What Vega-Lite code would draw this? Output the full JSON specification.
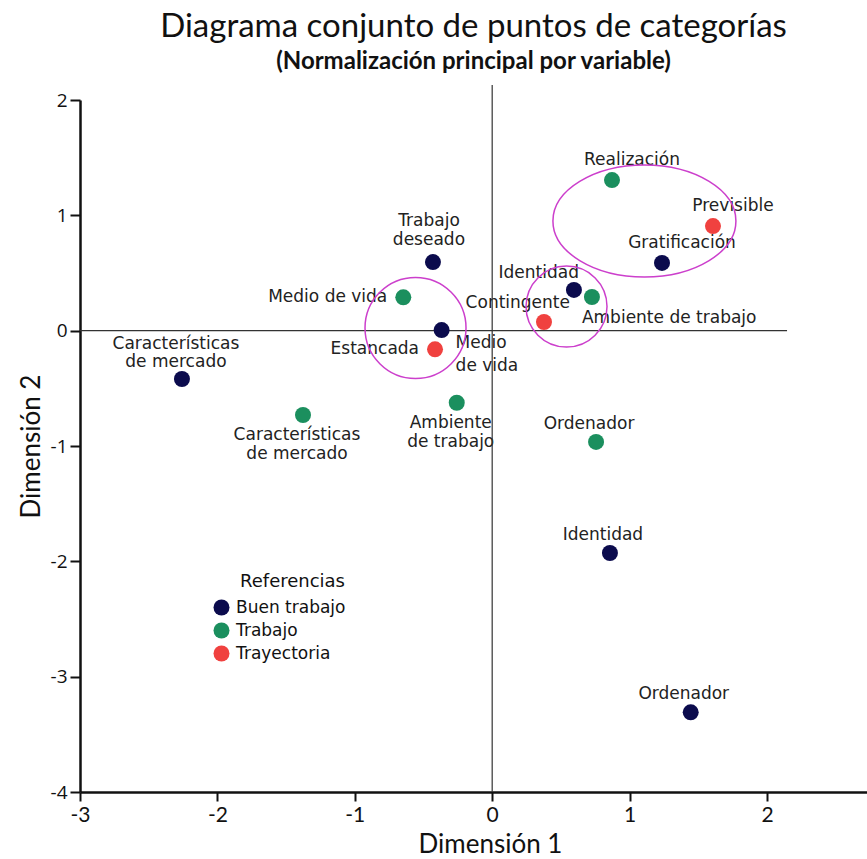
{
  "$schema": "https://vega.github.io/schema/vega-lite/v6.json",
  "width": 787,
  "height": 692,
  "autosize": "none",
  "padding": {"left": 80, "top": 100, "right": 0, "bottom": 67},
  "background": "white",
  "title": {
    "text": "Diagrama conjunto de puntos de categorías",
    "subtitle": "(Normalización principal por variable)",
    "font": "Lato",
    "fontSize": 33,
    "fontWeight": "normal",
    "color": "#111",
    "subtitleFont": "Lato",
    "subtitleFontSize": 24,
    "subtitleFontWeight": "bold",
    "subtitleColor": "#111",
    "subtitlePadding": 6,
    "anchor": "middle",
    "offset": 10
  },
  "config": {
    "view": {"stroke": null},
    "text": {"font": "DejaVu Sans", "fontSize": 17, "color": "#222", "baseline": "middle"}
  },
  "data": {
    "values": [
      {"serie": "Buen trabajo", "etiqueta": "Características\nde mercado", "d1": -2.258, "d2": -0.419},
      {"serie": "Buen trabajo", "etiqueta": "Trabajo\ndeseado", "d1": -0.431, "d2": 0.595},
      {"serie": "Buen trabajo", "etiqueta": "Medio\nde vida", "d1": -0.368, "d2": 0.005},
      {"serie": "Buen trabajo", "etiqueta": "Identidad", "d1": 0.595, "d2": 0.353},
      {"serie": "Buen trabajo", "etiqueta": "Gratificación", "d1": 1.236, "d2": 0.587},
      {"serie": "Buen trabajo", "etiqueta": "Identidad", "d1": 0.857, "d2": -1.928},
      {"serie": "Buen trabajo", "etiqueta": "Ordenador", "d1": 1.445, "d2": -3.309},
      {"serie": "Trabajo", "etiqueta": "Medio de vida", "d1": -0.647, "d2": 0.289},
      {"serie": "Trabajo", "etiqueta": "Características\nde mercado", "d1": -1.377, "d2": -0.731},
      {"serie": "Trabajo", "etiqueta": "Ambiente\nde trabajo", "d1": -0.258, "d2": -0.625},
      {"serie": "Trabajo", "etiqueta": "Realización", "d1": 0.872, "d2": 1.306},
      {"serie": "Trabajo", "etiqueta": "Ambiente de trabajo", "d1": 0.726, "d2": 0.292},
      {"serie": "Trabajo", "etiqueta": "Ordenador", "d1": 0.756, "d2": -0.965},
      {"serie": "Trayectoria", "etiqueta": "Estancada", "d1": -0.416, "d2": -0.162},
      {"serie": "Trayectoria", "etiqueta": "Contingente", "d1": 0.377, "d2": 0.075},
      {"serie": "Trayectoria", "etiqueta": "Previsible", "d1": 1.607, "d2": 0.907}
    ]
  },
  "encoding": {
    "x": {
      "field": "d1", "type": "quantitative",
      "scale": {"domain": [-3, 2.728], "nice": false, "zero": false},
      "axis": {
        "title": "Dimensión 1", "values": [-3, -2, -1, 0, 1, 2],
        "labelExpr": "datum.value < 0 ? '-' + abs(datum.value) : '' + datum.value",
        "grid": false, "domainColor": "#111", "domainWidth": 2.5, "tickColor": "#111", "tickWidth": 2, "tickSize": 9,
        "labelFont": "Lato", "labelFontSize": 21, "labelColor": "#111", "labelFlush": false, "labelPadding": 3,
        "titleFont": "Lato", "titleFontSize": 26, "titleFontWeight": "normal", "titleColor": "#111", "titleX": 410, "titlePadding": 6
      }
    },
    "y": {
      "field": "d2", "type": "quantitative",
      "scale": {"domain": [-4, 2], "nice": false, "zero": false},
      "axis": {
        "title": "Dimensión 2", "values": [-4, -3, -2, -1, 0, 1, 2],
        "labelExpr": "datum.value < 0 ? '-' + abs(datum.value) : '' + datum.value",
        "grid": false, "domainColor": "#111", "domainWidth": 2.5, "tickColor": "#111", "tickWidth": 2, "tickSize": 10,
        "labelFont": "Open Sans", "labelFontSize": 19, "labelColor": "#111", "labelFlush": false, "labelPadding": 3,
        "titleFont": "Lato", "titleFontSize": 26, "titleFontWeight": "normal", "titleColor": "#111", "titlePadding": 6
      }
    }
  },
  "layer": [
    {
      "transform": [{"filter": "(datum.serie == 'Buen trabajo' && (datum.etiqueta == 'Ordenador' || (datum.etiqueta == 'Identidad' && datum.d2 < 0))) || (datum.serie == 'Trabajo' && datum.etiqueta == 'Ordenador')"}],
      "mark": {"type": "text", "align": "center", "dx": -7, "dy": -18},
      "encoding": {"text": {"field": "etiqueta"}}
    },
    {
      "transform": [{"filter": "indexof(['Realización', 'Previsible', 'Gratificación'], datum.etiqueta) >= 0"}],
      "mark": {"type": "text", "align": "center", "dx": 20, "dy": -20},
      "encoding": {"text": {"field": "etiqueta"}}
    },
    {
      "transform": [{"filter": "datum.serie == 'Buen trabajo' && datum.etiqueta == 'Identidad' && datum.d2 > 0"}],
      "mark": {"type": "text", "align": "right", "dx": 5, "dy": -17},
      "encoding": {"text": {"field": "etiqueta"}}
    },
    {
      "transform": [{"filter": "datum.etiqueta == 'Contingente'"}],
      "mark": {"type": "text", "align": "right", "dx": 26, "dy": -19},
      "encoding": {"text": {"field": "etiqueta"}}
    },
    {
      "transform": [{"filter": "datum.etiqueta == 'Ambiente de trabajo'"}],
      "mark": {"type": "text", "align": "left", "dx": -10, "dy": 21},
      "encoding": {"text": {"field": "etiqueta"}}
    },
    {
      "transform": [{"filter": "datum.etiqueta == 'Medio de vida' || datum.etiqueta == 'Estancada'"}],
      "mark": {"type": "text", "align": "right", "dx": -16, "dy": 0},
      "encoding": {"text": {"field": "etiqueta"}}
    },
    {
      "transform": [{"filter": "datum.serie == 'Buen trabajo' && datum.etiqueta == 'Características\\nde mercado'"}],
      "mark": {"type": "text", "align": "center", "dx": -6, "dy": -35, "lineBreak": "\n", "lineHeight": 18},
      "encoding": {"text": {"field": "etiqueta"}}
    },
    {
      "transform": [{"filter": "datum.etiqueta == 'Trabajo\\ndeseado'"}],
      "mark": {"type": "text", "align": "center", "dx": -4, "dy": -41, "lineBreak": "\n", "lineHeight": 19},
      "encoding": {"text": {"field": "etiqueta"}}
    },
    {
      "transform": [{"filter": "datum.serie == 'Trabajo' && (datum.etiqueta == 'Características\\nde mercado' || datum.etiqueta == 'Ambiente\\nde trabajo')"}],
      "mark": {"type": "text", "align": "center", "dx": -6, "dy": 20, "lineBreak": "\n", "lineHeight": 19},
      "encoding": {"text": {"field": "etiqueta"}}
    },
    {
      "transform": [{"filter": "datum.etiqueta == 'Medio\\nde vida'"}],
      "mark": {"type": "text", "align": "left", "dx": 14, "dy": 13, "lineBreak": "\n", "lineHeight": 23},
      "encoding": {"text": {"field": "etiqueta"}}
    },
    {
      "data": {"values": [{"x": 0, "y": -4, "y2": 2.13}]},
      "mark": {"type": "rule", "color": "#333", "strokeWidth": 1.2},
      "encoding": {"x": {"field": "x", "type": "quantitative"}, "y": {"field": "y", "type": "quantitative"}, "y2": {"field": "y2"}}
    },
    {
      "data": {"values": [{"x": -3, "x2": 2.146, "y": 0}]},
      "mark": {"type": "rule", "color": "#333", "strokeWidth": 1.2},
      "encoding": {"x": {"field": "x", "type": "quantitative"}, "x2": {"field": "x2"}, "y": {"field": "y", "type": "quantitative"}}
    },
    {
      "data": {"values": [{"cx": 1.108, "cy": 0.951}]},
      "mark": {"type": "point", "filled": false, "stroke": "#cc3fcc", "strokeWidth": 1.5, "opacity": 1, "size": 33489,
        "shape": "M-1,0C-1,-0.338,-0.552,-0.612,0,-0.612C0.552,-0.612,1,-0.338,1,0C1,0.338,0.552,0.612,0,0.612C-0.552,0.612,-1,0.338,-1,0Z"},
      "encoding": {"x": {"field": "cx", "type": "quantitative"}, "y": {"field": "cy", "type": "quantitative"}}
    },
    {
      "data": {"values": [{"cx": 0.541, "cy": 0.209}]},
      "mark": {"type": "point", "filled": false, "stroke": "#cc3fcc", "strokeWidth": 1.5, "opacity": 1, "size": 6561, "shape": "circle"},
      "encoding": {"x": {"field": "cx", "type": "quantitative"}, "y": {"field": "cy", "type": "quantitative"}}
    },
    {
      "data": {"values": [{"cx": -0.558, "cy": 0.023}]},
      "mark": {"type": "point", "filled": false, "stroke": "#cc3fcc", "strokeWidth": 1.5, "opacity": 1, "size": 10201, "shape": "circle"},
      "encoding": {"x": {"field": "cx", "type": "quantitative"}, "y": {"field": "cy", "type": "quantitative"}}
    },
    {
      "mark": {"type": "circle", "size": 256, "opacity": 1},
      "encoding": {
        "color": {
          "field": "serie", "type": "nominal",
          "scale": {"domain": ["Buen trabajo", "Trabajo", "Trayectoria"], "range": ["#0b0b4d", "#1b8f5e", "#f0413f"]},
          "legend": {
            "title": "Referencias", "orient": "none", "legendX": 133, "legendY": 473,
            "symbolType": "circle", "symbolSize": 256, "symbolStrokeWidth": 0, "symbolOpacity": 1,
            "labelFont": "DejaVu Sans", "labelFontSize": 17, "labelColor": "#111", "labelOffset": 6,
            "titleFont": "DejaVu Sans", "titleFontSize": 18, "titleFontWeight": "normal", "titleColor": "#111",
            "titleAnchor": "end", "titlePadding": 8, "rowPadding": 5
          }
        }
      }
    }
  ]
}
